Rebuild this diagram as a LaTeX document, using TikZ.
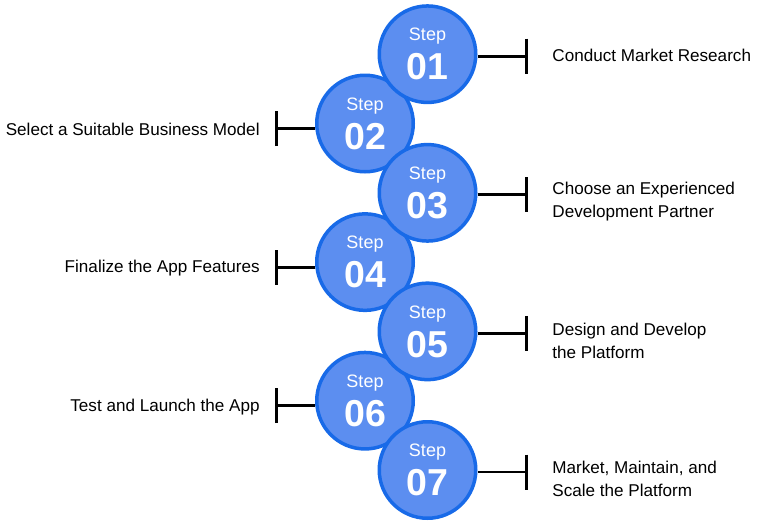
\documentclass[tikz,border=0pt]{standalone}
\usepackage{fontspec}
\setmainfont{Liberation Sans}
\usepackage{tikz}
\usetikzlibrary{positioning}
\usetikzlibrary{arrows.meta}
\definecolor{stepfill}{RGB}{92,142,240}
\definecolor{stepline}{RGB}{24,106,232}
\tikzset{
    stepcircle/.style={
           circle,
           draw=stepline, line width=3.5pt,
           fill=stepfill,
           minimum size=96.5pt,
           inner sep=0pt,
           text=white,
           align=center,
           font=\fontsize{18}{39}\selectfont,
           },
    tbar/.style={
           draw=black,
           line width=2.8pt,
           -{Bar[width=35pt]},
           },
    phantom/.style={
           inner sep=0pt,
           minimum size=0pt,
           },
    steptext/.style={
           inner sep=0pt,
           align=left,
           text=black,
           font=\fontsize{17.1}{23}\selectfont,
           },
}
% content of one circle
\newcommand{\stepno}[1]{Step\\{\fontsize{37.5}{39}\selectfont\bfseries #1}}

\begin{document}
\begin{tikzpicture}

 \fill[white] (0pt,0pt) rectangle (778pt,-525pt);
 \useasboundingbox (0pt,0pt) rectangle (778pt,-525pt);

 % LEFT COLUMN: even steps (drawn first, they lie below)
 \node[stepcircle] (S2) at (365pt,-123.5pt) {\stepno{02}};
 \node[stepcircle, below of=S2, node distance=138.6pt] (S4) {\stepno{04}};
 \node[stepcircle, below of=S4, node distance=138.6pt] (S6) {\stepno{06}};

 % RIGHT COLUMN: odd steps
 \node[stepcircle, above of=S2, node distance=69.3pt, xshift=62.5pt] (S1) {\stepno{01}};
 \node[stepcircle, below of=S1, node distance=138.6pt] (S3) {\stepno{03}};
 \node[stepcircle, below of=S3, node distance=138.6pt] (S5) {\stepno{05}};
 \node[stepcircle, below of=S5, node distance=138.6pt] (S7) {\stepno{07}};

 % ends of the bars
 \node[phantom, right of=S1, node distance=100.5pt, yshift=-2pt] (E1) {};
 \node[phantom, right of=S3, node distance=100.5pt, yshift=-2pt] (E3) {};
 \node[phantom, right of=S5, node distance=100.5pt, yshift=-2pt] (E5) {};
 \node[phantom, right of=S7, node distance=100.5pt, yshift=-2pt] (E7) {};
 \node[phantom, left of=S2, node distance=90pt, yshift=-5pt] (W2) {};
 \node[phantom, left of=S4, node distance=90pt, yshift=-5pt] (W4) {};
 \node[phantom, left of=S6, node distance=90pt, yshift=-5pt] (W6) {};

 % texts
 \node[steptext, right=24pt of E1, yshift=1pt] (T1) {Conduct Market Research};
 \node[steptext, left=15pt of W2, yshift=-1pt] (T2) {Select a Suitable Business Model};
 \node[steptext, right=24pt of E3, yshift=-7pt] (T3) {Choose an Experienced\\Development Partner};
 \node[steptext, left=15pt of W4, yshift=-1pt] (T4) {Finalize the App Features};
 \node[steptext, right=24pt of E5, yshift=-7pt] (T5) {Design and Develop\\the Platform};
 \node[steptext, left=15pt of W6, yshift=-1pt] (T6) {Test and Launch the App};
 \node[steptext, right=24pt of E7, yshift=-7pt] (T7) {Market, Maintain, and\\Scale the Platform};

 % the bars
 \draw[tbar] (S1.east |- E1) -- (E1);
 \draw[tbar] (S3.east |- E3) -- (E3);
 \draw[tbar] (S5.east |- E5) -- (E5);
 \draw[tbar] (S7.east |- E7) -- (E7);
 \draw[tbar] (S2.west |- W2) -- (W2);
 \draw[tbar] (S4.west |- W4) -- (W4);
 \draw[tbar] (S6.west |- W6) -- (W6);

\end{tikzpicture}
\end{document}
